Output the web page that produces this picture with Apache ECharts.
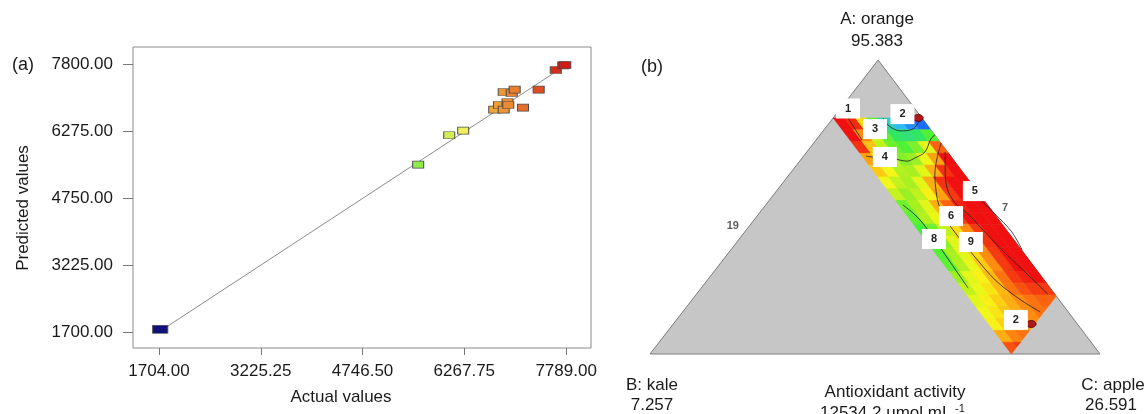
<!DOCTYPE html>
<html><head><meta charset="utf-8">
<script src="https://cdn.jsdelivr.net/npm/echarts@6/dist/echarts.min.js"></script>
<style>html,body{margin:0;padding:0;background:#fff;}#c{width:1147px;height:414px;}</style>
</head><body><div id="c"></div>
<script>
// ---------- Panel (a): predicted vs actual ----------
const actualValues    = [1722, 5578, 6042, 6251, 6715, 6786, 6856, 6913, 6925, 6856, 6976, 7020, 7144, 7379, 7634, 7747, 7777];
const predictedValues = [1762, 5518, 6187, 6294, 6773, 6878, 6773, 6940, 6878, 7174, 7152, 7229, 6819, 7229, 7676, 7783, 7790];
const xTicks = [1704.00, 3225.25, 4746.50, 6267.75, 7789.00];
const yTicks = [1700.00, 3225.00, 4750.00, 6275.00, 7800.00];
const fitLine = [[1704, 1704], [7789, 7789]];

// ---------- Panel (b): ternary response surface ----------
const aMax = 0.803, bMax = 0.197, cMax = 0.803;   // constrained region limits
// colour level (0 = blue ... 100 = red), rows from top (A high) to bottom, columns from left edge (B high) to right edge (B = 0)
const surfaceRows = [
  [100, 97, 72, 40, 22, 16, 10, 6],
  [100, 85, 58, 40, 30, 28, 30, 38],
  [96, 76, 55, 42, 38, 44, 62, 90],
  [82, 68, 55, 45, 48, 64, 82, 100],
  [75, 65, 52, 50, 62, 80, 96, 100],
  [65, 55, 50, 62, 80, 96, 100, 100],
  [56, 48, 55, 68, 82, 95, 100, 100],
  [42, 50, 62, 80, 90, 98, 100, 100],
  [40, 52, 64, 78, 94, 100, 100, 100],
  [36, 42, 55, 72, 85, 95, 100, 100],
  [36, 46, 62, 75, 85, 96, 100, 100],
  [38, 50, 62, 72, 85, 95, 100, 100],
  [40, 52, 64, 75, 85, 95, 100, 100],
  [48, 62, 68, 78, 88, 95, 98, 100],
  [55, 64, 70, 78, 88, 92, 95, 95],
  [62, 68, 74, 80, 85, 88, 90, 90],
  [65, 70, 76, 80, 85, 88, 88, 88],
  [68, 74, 78, 82, 85, 85, 85, 85],
  [80, 86, 88, 88, 88, 88, 88, 88],
  [92, 95, 95, 95, 95, 95, 95, 95]
];
const contour1 = [[0.518,0.803],[0.531,0.776],[0.556,0.759],[0.584,0.765],[0.600,0.796]];
const contour2 = [[0.480,0.673],[0.511,0.667],[0.544,0.663],[0.571,0.656],[0.589,0.667],[0.611,0.687],[0.624,0.731],[0.633,0.745]];
const contour3 = [[0.647,0.718],[0.638,0.667],[0.633,0.609],[0.636,0.551],[0.642,0.507],[0.658,0.456],[0.684,0.401],[0.722,0.330],[0.767,0.252],[0.818,0.190],[0.867,0.143]];
const contour4 = [[0.656,0.687],[0.656,0.633],[0.660,0.565],[0.678,0.514],[0.707,0.476],[0.744,0.415],[0.789,0.344],[0.840,0.269],[0.884,0.204]];
const contour5 = [[0.729,0.531],[0.767,0.476],[0.804,0.415],[0.827,0.354]];
const contour6 = [[0.562,0.507],[0.584,0.480],[0.604,0.449],[0.633,0.388],[0.667,0.313],[0.707,0.224]];
const contour7 = [[0.440,0.803],[0.471,0.728]];
const boxLabels = ['1', '2', '3', '4', '5', '6', '8', '9', '2'];
const boxX = [0.440, 0.561, 0.500, 0.522, 0.722, 0.669, 0.631, 0.713, 0.813];
const boxY = [0.835, 0.816, 0.765, 0.670, 0.554, 0.469, 0.391, 0.381, 0.116];
const plainLabels = ['7', '19'];
const plainX = [0.789, 0.184];
const plainY = [0.497, 0.435];
const dotX = [0.596, 0.847];
const dotY = [0.803, 0.102];

// ---------- build ----------
const FONT = "'Liberation Sans', Arial, sans-serif";
const TXT = '#1a1a1a';
const apexX = 0.507;
const nRows = surfaceRows.length, nCols = surfaceRows[0].length;
function tern(a, b) { const c = 1 - a - b; return [c + a * apexX, a]; }
function clipPoly(pts, minSum) {
  const out = [];
  for (let i = 0; i < pts.length; i++) {
    const p = pts[i], q = pts[(i + 1) % pts.length];
    const fp = p[0] + p[1] - minSum, fq = q[0] + q[1] - minSum;
    if (fp >= 0) out.push(p);
    if ((fp >= 0) !== (fq >= 0)) {
      const t = fp / (fp - fq);
      out.push([p[0] + t * (q[0] - p[0]), p[1] + t * (q[1] - p[1])]);
    }
  }
  return out;
}
const cellData = [];
surfaceRows.forEach((r, i) => r.forEach((v, j) => cellData.push([i, j, v])));
const scatterData = actualValues.map((x, i) => [x, predictedValues[i]]);

const chart = echarts.init(document.getElementById('c'), null, { renderer: 'canvas' });
const contourSeries = [contour1, contour2, contour3, contour4, contour5, contour6, contour7].map(c => ({
  type: 'line', xAxisIndex: 1, yAxisIndex: 1, data: c, symbol: 'none', smooth: 0.35, silent: true,
  lineStyle: { color: '#222', width: 0.9, opacity: 0.9 }, z: 4
}));

chart.setOption({
  animation: false,
  backgroundColor: '#fff',
  textStyle: { fontFamily: FONT },
  grid: [
    { left: 133, top: 47, width: 458, height: 301, show: true, borderColor: '#8a8a8a', borderWidth: 1, backgroundColor: 'transparent' },
    { left: 650, top: 60, width: 450, height: 294 }
  ],
  xAxis: [
    { type: 'value', gridIndex: 0, min: 1315, max: 8161,
      axisLine: { show: false }, splitLine: { show: false },
      axisTick: { show: true, length: 7, customValues: xTicks, lineStyle: { color: '#777' } },
      axisLabel: { customValues: xTicks, margin: 15, fontSize: 17, color: TXT, fontFamily: FONT,
        formatter: v => v.toFixed(2) } },
    { type: 'value', gridIndex: 1, min: 0, max: 1, show: false }
  ],
  yAxis: [
    { type: 'value', gridIndex: 0, min: 1335, max: 8201,
      axisLine: { show: false }, splitLine: { show: false },
      axisTick: { show: true, length: 10, customValues: yTicks, lineStyle: { color: '#777' } },
      axisLabel: { customValues: yTicks, margin: 20, fontSize: 17, color: TXT, fontFamily: FONT,
        formatter: v => v.toFixed(2) } },
    { type: 'value', gridIndex: 1, min: 0, max: 1, show: false }
  ],
  visualMap: [
    { type: 'continuous', show: false, seriesIndex: 1, dimension: 0, min: 1704, max: 7789,
      inRange: { color: ['#101078', '#1222a0', '#2040d0', '#2080f0', '#20c0f0', '#30e0c0', '#40f080',
                         '#60ec50', '#a8ea48', '#f0f060', '#f0a038', '#e45a26', '#d01818'] } },
    { type: 'continuous', show: false, seriesIndex: 3, dimension: 2, min: 0, max: 100,
      inRange: { color: ['#1040ff', '#30c0f0', '#30f040', '#a8f020', '#f8f818', '#ff9a10', '#f01010'] } }
  ],
  series: [
    { type: 'line', xAxisIndex: 0, yAxisIndex: 0, data: fitLine, symbol: 'none', silent: true,
      lineStyle: { color: '#8c8c8c', width: 1 }, z: 2 },
    { type: 'scatter', xAxisIndex: 0, yAxisIndex: 0, data: scatterData, symbol: 'rect',
      symbolSize: (v) => v[0] < 3000 ? [15, 8] : [11, 7],
      itemStyle: { borderColor: '#4a4a4a', borderWidth: 0.8, opacity: 1 }, z: 3 },
    { type: 'custom', xAxisIndex: 1, yAxisIndex: 1, data: [[0.5, 0.5]], clip: false, silent: true, z: 1,
      renderItem: (params, api) => ({
        type: 'polygon',
        shape: { points: [tern(1, 0), tern(0, 1), tern(0, 0)].map(p => api.coord(p)) },
        style: { fill: '#c6c6c6', stroke: '#7d7d7d', lineWidth: 1 }
      }) },
    { type: 'custom', xAxisIndex: 1, yAxisIndex: 1, data: cellData, clip: false, silent: true, z: 2,
      encode: { x: -1, y: -1 },
      renderItem: (params, api) => {
        const row = api.value(0), col = api.value(1);
        const da = aMax / nRows;
        const a1 = aMax - row * da, a0 = a1 - da;
        const bL = bMax * (1 - col / nCols), bR = bMax * (1 - (col + 1) / nCols);
        const poly = clipPoly([[a1, bL], [a1, bR], [a0, bR], [a0, bL]], 1 - cMax);
        if (poly.length < 3) return null;
        const col0 = api.visual('color');
        return { type: 'polygon',
          shape: { points: poly.map(p => api.coord(tern(p[0], p[1]))) },
          style: { fill: col0, stroke: col0, lineWidth: 0.6 } };
      } },
    ...contourSeries,
    { type: 'scatter', xAxisIndex: 1, yAxisIndex: 1, data: dotX.map((x, i) => [x, dotY[i]]),
      symbol: 'circle', symbolSize: [10, 7], silent: true, z: 5,
      itemStyle: { color: '#b01818', borderColor: '#5a0000', borderWidth: 0.8, opacity: 1 } },
    { type: 'scatter', xAxisIndex: 1, yAxisIndex: 1, silent: true, z: 6,
      data: boxLabels.map((t, i) => ({ name: t, value: [boxX[i], boxY[i]] })),
      symbol: 'rect', symbolSize: [24, 20], itemStyle: { color: '#ffffff', opacity: 1 },
      label: { show: true, position: 'inside', formatter: p => p.name, color: '#222',
        fontWeight: 'bold', fontSize: 11, fontFamily: FONT } },
    { type: 'scatter', xAxisIndex: 1, yAxisIndex: 1, silent: true, z: 6,
      data: plainLabels.map((t, i) => ({ name: t, value: [plainX[i], plainY[i]] })),
      symbol: 'rect', symbolSize: [16, 14], itemStyle: { color: 'rgba(0,0,0,0)' },
      label: { show: true, position: 'inside', formatter: p => p.name, color: '#333',
        fontWeight: 'bold', fontSize: 11, fontFamily: FONT } }
  ],
  graphic: [
    { type: 'text', x: 23, y: 65, style: { text: '(a)', font: '18px ' + FONT, fill: TXT, textAlign: 'center', textVerticalAlign: 'middle' } },
    { type: 'text', x: 652, y: 67, style: { text: '(b)', font: '18px ' + FONT, fill: TXT, textAlign: 'center', textVerticalAlign: 'middle' } },
    { type: 'text', x: 23, y: 208, rotation: Math.PI / 2, style: { text: 'Predicted values', font: '17px ' + FONT, fill: TXT, textAlign: 'center', textVerticalAlign: 'middle' } },
    { type: 'text', x: 341, y: 397, style: { text: 'Actual values', font: '17px ' + FONT, fill: TXT, textAlign: 'center', textVerticalAlign: 'middle' } },
    { type: 'text', x: 877, y: 19, style: { text: 'A: orange', font: '17px ' + FONT, fill: TXT, textAlign: 'center', textVerticalAlign: 'middle' } },
    { type: 'text', x: 877, y: 41, style: { text: '95.383', font: '17px ' + FONT, fill: TXT, textAlign: 'center', textVerticalAlign: 'middle' } },
    { type: 'text', x: 652, y: 385, style: { text: 'B: kale', font: '17px ' + FONT, fill: TXT, textAlign: 'center', textVerticalAlign: 'middle' } },
    { type: 'text', x: 652, y: 405, style: { text: '7.257', font: '17px ' + FONT, fill: TXT, textAlign: 'center', textVerticalAlign: 'middle' } },
    { type: 'text', x: 1113, y: 385, style: { text: 'C: apple', font: '17px ' + FONT, fill: TXT, textAlign: 'center', textVerticalAlign: 'middle' } },
    { type: 'text', x: 1111, y: 405, style: { text: '26.591', font: '17px ' + FONT, fill: TXT, textAlign: 'center', textVerticalAlign: 'middle' } },
    { type: 'text', x: 895, y: 392, style: { text: 'Antioxidant activity', font: '17px ' + FONT, fill: TXT, textAlign: 'center', textVerticalAlign: 'middle' } },
    { type: 'text', x: 820, y: 413, style: { text: '12534.2 umol mL', font: '17px ' + FONT, fill: TXT, textAlign: 'left', textVerticalAlign: 'middle' } },
    { type: 'text', x: 955, y: 409, style: { text: '-1', font: '11px ' + FONT, fill: TXT, textAlign: 'left', textVerticalAlign: 'middle' } }
  ]
});
</script>
</body></html>
